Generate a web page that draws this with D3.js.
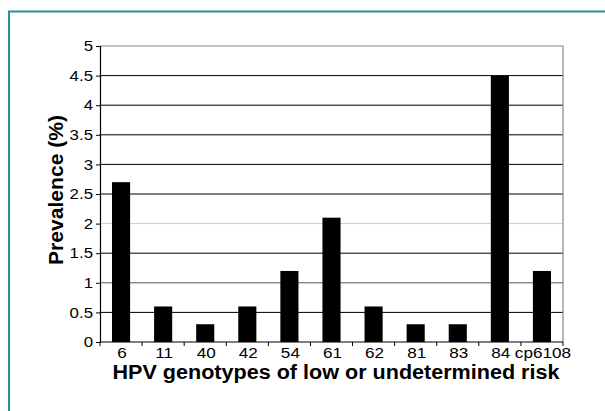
<!DOCTYPE html>
<html>
<head>
<meta charset="utf-8">
<script src="https://cdn.jsdelivr.net/npm/d3@7"></script>
<style>
  body { margin: 0; background: #fff; }
  text { font-family: "Liberation Sans", Arial, sans-serif; }
</style>
</head>
<body>
<div id="chart"></div>
<script>
let genotypes = ["6", "11", "40", "42", "54", "61", "62", "81", "83", "84", "cp6108"];
let prevalence = [2.7, 0.6, 0.3, 0.6, 1.2, 2.1, 0.6, 0.3, 0.3, 4.5, 1.2];
let yTicks = [0, 0.5, 1, 1.5, 2, 2.5, 3, 3.5, 4, 4.5, 5];

let W = 605, H = 411;
let m = { left: 100, right: 42, top: 46, bottom: 69 };

// the original figure is a bit wider than its fonts, stretch text to match
let stretch = (sel, k) => {
  sel.each(function () {
    let len = this.getComputedTextLength();
    d3.select(this).attr("textLength", len * k).attr("lengthAdjust", "spacingAndGlyphs");
  });
};

let svg = d3.select("#chart").append("svg")
  .attr("width", W)
  .attr("height", H);

// teal frame around the figure
svg.append("path")
  .attr("d", `M9,${H + 5} L9,11.5 L${W + 5},11.5`)
  .attr("fill", "none")
  .attr("stroke", "#2a8f9c")
  .attr("stroke-width", 2);

let x = d3.scaleBand().domain(genotypes).range([m.left, W - m.right]).paddingInner(0.57).paddingOuter(0.285);
let y = d3.scaleLinear().domain([0, 5]).range([H - m.bottom, m.top]);

// gridlines
svg.append("g").selectAll("line").data(yTicks.filter(d => d > 0 && d < 5)).enter().append("line")
  .attr("x1", m.left).attr("x2", W - m.right)
  .attr("y1", d => y(d)).attr("y2", d => y(d))
  .attr("stroke", d => d == 2 ? "#ccc" : d == 1 ? "#555" : "#000")
  .attr("stroke-width", 1);

// top and right frame (gray)
svg.append("path")
  .attr("d", `M${m.left},${y(5)} L${W - m.right},${y(5)} L${W - m.right},${y(0)}`)
  .attr("fill", "none").attr("stroke", "#888").attr("stroke-width", 1.2);

// bars
svg.append("g").selectAll("rect").data(prevalence).enter().append("rect")
  .attr("x", (d, i) => x(genotypes[i]))
  .attr("width", x.bandwidth())
  .attr("y", d => y(d))
  .attr("height", d => y(0) - y(d))
  .attr("fill", "#000");

// y axis
let yAxis = svg.append("g").attr("transform", `translate(${m.left},0)`)
  .call(d3.axisLeft(y).tickValues(yTicks).tickSize(4).tickFormat(d3.format("")));
yAxis.select(".domain").attr("stroke", "#000").attr("stroke-width", 1.2);
yAxis.selectAll("text").attr("font-size", 14.5).attr("fill", "#000").attr("x", -7)
  .call(stretch, 1.16);

// x axis
let step = x.step();
let bounds = genotypes.map((g, i) => m.left + i * step).concat([W - m.right]);
let xAxis = svg.append("g").attr("transform", `translate(0,${y(0)})`);
xAxis.append("line").attr("x1", m.left).attr("x2", W - m.right)
  .attr("stroke", "#000").attr("stroke-width", 1.2);
xAxis.selectAll(".tick").data(bounds).enter().append("line")
  .attr("x1", d => d).attr("x2", d => d).attr("y1", 0).attr("y2", 4)
  .attr("stroke", "#000");
xAxis.selectAll(".lbl").data(genotypes).enter().append("text")
  .attr("x", d => x(d) + x.bandwidth() / 2 + 1)
  .attr("y", 16)
  .attr("text-anchor", "middle")
  .attr("font-size", 14.5)
  .text(d => d)
  .call(stretch, 1.18);

// axis titles
svg.append("text")
  .attr("x", 336)
  .attr("y", 379)
  .attr("text-anchor", "middle")
  .attr("font-size", 20)
  .attr("font-weight", "bold")
  .text("HPV genotypes of low or undetermined risk")
  .attr("textLength", 447)
  .attr("lengthAdjust", "spacingAndGlyphs");

svg.append("text")
  .attr("transform", `translate(63,190) rotate(-90)`)
  .attr("text-anchor", "middle")
  .attr("font-size", 20)
  .attr("font-weight", "bold")
  .text("Prevalence (%)")
  .attr("textLength", 150)
  .attr("lengthAdjust", "spacingAndGlyphs");
</script>
</body>
</html>
